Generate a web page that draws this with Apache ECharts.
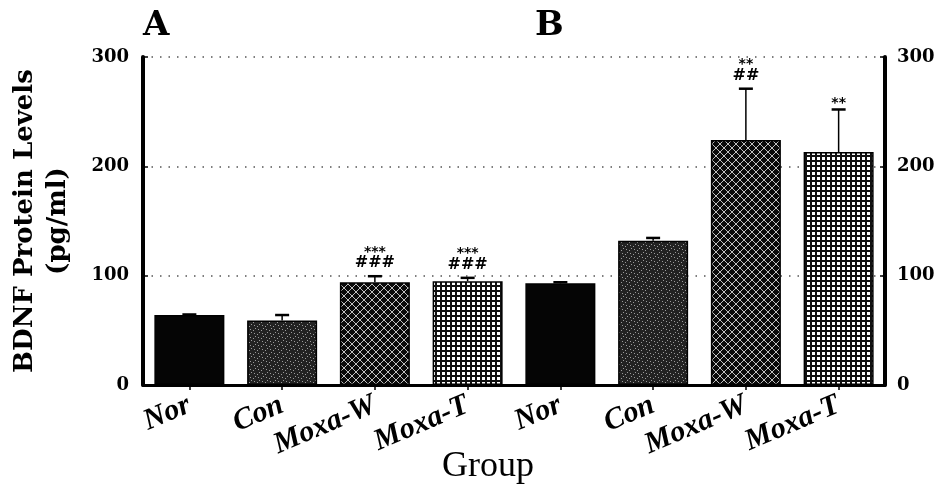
<!DOCTYPE html>
<html>
<head>
<meta charset="utf-8">
<script src="https://cdn.jsdelivr.net/npm/echarts@6/dist/echarts.min.js"></script>
<style>
html,body{margin:0;padding:0;background:#fff;}
#chart{width:949px;height:494px;}
</style>
</head>
<body>
<div id="chart"></div>
<script>
var categories = ['Nor', 'Con', 'Moxa-W', 'Moxa-T', 'Nor', 'Con', 'Moxa-W', 'Moxa-T'];
var groupTypes = ['nor', 'con', 'moxaW', 'moxaT', 'nor', 'con', 'moxaW', 'moxaT'];
var values = [64, 59, 94, 95, 93, 132, 224, 213];
var errors = [0.5, 5, 5.5, 3, 1, 2.5, 47, 39];
var starLabels = ['', '', '***', '***', '', '', '**', '**'];
var hashLabels = ['', '', '###', '###', '', '', '##', ''];
var yTicks = [0, 100, 200, 300];

function makeTile(size, draw) {
  var c = document.createElement('canvas');
  c.width = size; c.height = size;
  var ctx = c.getContext('2d');
  draw(ctx, size);
  return c;
}
var patterns = {
  nor: '#050505',
  con: { image: makeTile(8, function (ctx, s) {
    ctx.fillStyle = '#222'; ctx.fillRect(0, 0, s, s);
    ctx.fillStyle = '#9a9a9a';
    ctx.fillRect(1, 6, 1, 1); ctx.fillRect(3, 4, 1, 1); ctx.fillRect(5, 2, 1, 1);
    ctx.fillRect(7, 0, 1, 1); ctx.fillRect(6, 5, 1, 1); ctx.fillRect(2, 1, 1, 1);
  }), repeat: 'repeat' },
  moxaW: { image: makeTile(8, function (ctx, s) {
    ctx.fillStyle = '#0a0a0a'; ctx.fillRect(0, 0, s, s);
    ctx.fillStyle = '#c0c0c0';
    for (var i = 0; i < s; i++) { ctx.fillRect(i, i, 1, 1); ctx.fillRect(s - 1 - i, i, 1, 1); }
  }), repeat: 'repeat' },
  moxaT: { image: makeTile(5, function (ctx, s) {
    ctx.fillStyle = '#111'; ctx.fillRect(0, 0, s, s);
    ctx.fillStyle = '#ffffff'; ctx.fillRect(2, 2, 3, 3);
  }), repeat: 'repeat' }
};

var barData = values.map(function (v, i) {
  return { value: v, itemStyle: { color: patterns[groupTypes[i]] } };
});
var errData = values.map(function (v, i) { return [i, v, v + errors[i]]; });

var chart = echarts.init(document.getElementById('chart'));
var serif = 'DejaVu Serif';
var tickLabelStyle = { fontFamily: serif, fontWeight: 'bold', fontSize: 18, color: '#000' };

chart.setOption({
  animation: false,
  backgroundColor: '#fff',
  title: [
    { text: 'A', left: 138, top: 4, textStyle: { fontFamily: serif, fontWeight: 'bold', fontSize: 34, color: '#000' } },
    { text: 'B', left: 530, top: 4, textStyle: { fontFamily: serif, fontWeight: 'bold', fontSize: 34, color: '#000' } }
  ],
  graphic: [
    { type: 'text', left: 442, top: 449, style: { text: 'Group', font: '36px "Liberation Serif"', fill: '#000' } }
  ],
  grid: { left: 143, right: 64, top: 57, bottom: 109, outerBoundsMode: 'none', containLabel: false },
  xAxis: {
    type: 'category',
    data: categories,
    axisLine: { show: true, lineStyle: { color: '#000', width: 3 } },
    axisTick: { show: true, alignWithLabel: true, length: 5, lineStyle: { color: '#000', width: 1.5 } },
    axisLabel: { rotate: 23, margin: 19, interval: 0, fontFamily: 'Liberation Serif', fontStyle: 'italic', fontWeight: 'bold', fontSize: 30, color: '#000' }
  },
  yAxis: [
    {
      type: 'value', min: 0, max: 300, interval: 100,
      name: 'BDNF Protein Levels\n(pg/ml)',
      nameLocation: 'middle', nameRotate: 90, nameGap: 68,
      nameTextStyle: { fontFamily: serif, fontWeight: 'bold', fontSize: 26, lineHeight: 33, color: '#000', align: 'center' },
      axisLine: { show: true, lineStyle: { color: '#000', width: 4 } },
      axisTick: { show: true, inside: true, length: 5, lineStyle: { color: '#000', width: 1.5 } },
      axisLabel: Object.assign({ margin: 14 }, tickLabelStyle),
      splitLine: { show: true, lineStyle: { color: '#555', width: 1.5, type: [1.5, 7] } }
    },
    {
      type: 'value', min: 0, max: 300, interval: 100, position: 'right',
      axisLine: { show: true, lineStyle: { color: '#000', width: 4 } },
      axisTick: { show: true, inside: true, length: 5, lineStyle: { color: '#000', width: 1.5 } },
      axisLabel: Object.assign({ margin: 12 }, tickLabelStyle),
      splitLine: { show: false }
    }
  ],
  series: [
    {
      type: 'bar',
      data: barData,
      barWidth: 70,
      itemStyle: { borderColor: '#000', borderWidth: 1.5 },
      z: 2
    },
    {
      type: 'custom',
      data: errData,
      z: 3,
      renderItem: function (params, api) {
        var idx = api.value(0);
        var top = api.coord([idx, api.value(1)]);
        var hi = api.coord([idx, api.value(2)]);
        var children = [
          { type: 'line', shape: { x1: top[0], y1: top[1], x2: hi[0], y2: hi[1] }, style: { stroke: '#000', lineWidth: 1.5 } },
          { type: 'line', shape: { x1: hi[0] - 7, y1: hi[1], x2: hi[0] + 7, y2: hi[1] }, style: { stroke: '#000', lineWidth: 2.5 } }
        ];
        var i = params.dataIndex;
        var y = hi[1] - 5;
        if (hashLabels[i]) {
          children.push({ type: 'text', style: { text: hashLabels[i], x: hi[0], y: y, align: 'center', verticalAlign: 'bottom', font: 'bold 16px "DejaVu Sans"', fill: '#000' } });
          y -= 18;
        }
        if (starLabels[i]) {
          children.push({ type: 'text', style: { text: starLabels[i], x: hi[0], y: y + 6, align: 'center', verticalAlign: 'bottom', font: 'bold 14px "DejaVu Sans"', fill: '#000' } });
        }
        return { type: 'group', children: children };
      }
    }
  ]
});
</script>
</body>
</html>
